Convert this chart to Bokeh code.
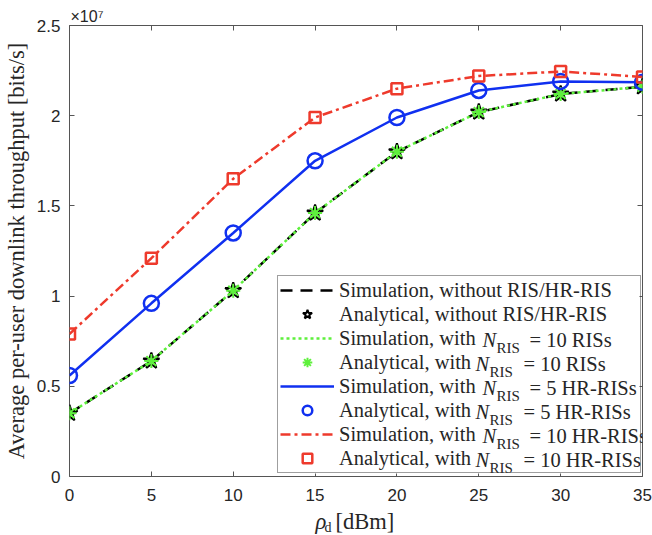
from bokeh.plotting import figure
from bokeh.layouts import column
from bokeh.models import (Range1d, LinearAxis, FixedTicker, Legend, LegendItem, Label,
                          Title, BoxAnnotation)
from bokeh.core.properties import value
from bokeh.embed import file_html
from bokeh.resources import INLINE

# ---------------- data ----------------
rho_dbm = [0, 5, 10, 15, 20, 25, 30, 35]
# average per-user downlink throughput, in units of 1e7 bits/s
thr_without = [0.35, 0.64, 1.03, 1.46, 1.80, 2.02, 2.12, 2.16]
thr_ris10 = [0.35, 0.64, 1.03, 1.46, 1.80, 2.02, 2.12, 2.16]
thr_hr5 = [0.56, 0.96, 1.35, 1.75, 1.99, 2.14, 2.19, 2.185]
thr_hr10 = [0.79, 1.21, 1.65, 1.99, 2.15, 2.22, 2.245, 2.215]

x_ticks = [0, 5, 10, 15, 20, 25, 30, 35]
x_tick_labels = ["0", "5", "10", "15", "20", "25", "30", "35"]
y_ticks = [0, 0.5, 1, 1.5, 2, 2.5]
y_tick_labels = ["0", "0.5", "1", "1.5", "2", "2.5"]
y_exponent = "×10⁷"

legend_prefix = [
    "Simulation, without RIS/HR-RIS",
    "Analytical, without RIS/HR-RIS",
    "Simulation, with ",
    "Analytical, with ",
    "Simulation, with ",
    "Analytical, with ",
    "Simulation, with ",
    "Analytical, with ",
]
legend_suffix = [None, None, "= 10 RISs", "= 10 RISs", "= 5 HR-RISs",
                 "= 5 HR-RISs", "= 10 HR-RISs", "= 10 HR-RISs"]

y_label = "Average per-user downlink throughput [bits/s]"

# ---------------- styles ----------------
BLACK = "#000000"
GREEN = "#5ef03c"
BLUE = "#1030f0"
RED = "#ee3a2c"
AX = "#555555"
TXT = "#262626"
SERIF = "Liberation Serif"
SANS = "Liberation Sans"

W = 652
MAIN_H = 508
FL, FB = 69, 476  # frame left / bottom in canvas pixels

p = figure(width=W, height=MAIN_H, x_range=Range1d(0, 35), y_range=Range1d(0, 2.5),
           output_backend="svg", toolbar_location=None,
           min_border_left=FL, min_border_right=10, min_border_top=25,
           min_border_bottom=MAIN_H - FB)
p.xgrid.visible = False
p.ygrid.visible = False
p.outline_line_color = AX
p.outline_line_width = 1
p.background_fill_color = "white"
p.border_fill_color = "white"

xa = p.below[0]
xa.ticker = FixedTicker(ticks=x_ticks)
xa.major_label_overrides = dict(zip(x_ticks, x_tick_labels))
ya = p.left[0]
ya.ticker = FixedTicker(ticks=y_ticks)
ya.major_label_overrides = dict(zip(y_ticks, y_tick_labels))
for ax in (xa, ya):
    ax.axis_line_color = None
    ax.major_tick_in = 5
    ax.major_tick_out = 0
    ax.major_tick_line_color = AX
    ax.minor_tick_line_color = None
    ax.major_label_text_font = SANS
    ax.major_label_text_font_size = "17px"
    ax.major_label_text_color = TXT
xa.major_label_standoff = 12
ya.major_label_standoff = 9
ya.axis_label = y_label
ya.axis_label_text_font = SERIF
ya.axis_label_text_font_size = "22.5px"
ya.axis_label_text_font_style = "normal"
ya.axis_label_text_color = TXT
ya.axis_label_standoff = 5

# tick marks on the top and right edges (box style), without labels
top = LinearAxis(ticker=FixedTicker(ticks=x_ticks), axis_line_color=None,
                 major_tick_in=5, major_tick_out=0, major_tick_line_color=AX,
                 minor_tick_line_color=None, major_label_text_font_size="0px",
                 major_label_text_color=None, major_label_standoff=0)
right = LinearAxis(ticker=FixedTicker(ticks=y_ticks), axis_line_color=None,
                   major_tick_in=5, major_tick_out=0, major_tick_line_color=AX,
                   minor_tick_line_color=None, major_label_text_font_size="0px",
                   major_label_text_color=None, major_label_standoff=0)
p.add_layout(top, "above")
p.add_layout(right, "right")
p.add_layout(Title(text=y_exponent, align="left", offset=1, standoff=2,
                   text_font=SANS, text_font_size="16px", text_font_style="normal",
                   text_color=TXT), "above")

# ---------------- series ----------------
r0 = p.line(rho_dbm, thr_without, line_color=BLACK, line_width=2.5, line_dash="12 8")
r1 = p.scatter(rho_dbm, thr_without, marker="star", size=17, fill_color=None,
               line_color=BLACK, line_width=2)
r2 = p.line(rho_dbm, thr_ris10, line_color=GREEN, line_width=2.5, line_dash="3 3")
r3 = p.scatter(rho_dbm, thr_ris10, marker="asterisk", size=14, line_color=GREEN, line_width=2)
r4 = p.line(rho_dbm, thr_hr5, line_color=BLUE, line_width=2.5)
r5 = p.scatter(rho_dbm, thr_hr5, marker="circle", size=15, fill_color=None,
               line_color=BLUE, line_width=2.5)
r6 = p.line(rho_dbm, thr_hr10, line_color=RED, line_width=2.5, line_dash="10 4 3 4")
r7 = p.scatter(rho_dbm, thr_hr10, marker="square", size=11, fill_color=None,
               line_color=RED, line_width=2.5)
renderers = [r0, r1, r2, r3, r4, r5, r6, r7]

# legend geometry (canvas px)
LG_L, LG_T, LG_R, LG_B = 277, 277, 639, 473

# white backing of the legend (drawn above the curves, below the legend texts)
p.add_layout(BoxAnnotation(left=LG_L - FL, right=LG_R - FL, top=FB - LG_T, bottom=FB - LG_B,
                           left_units="screen", right_units="screen",
                           top_units="screen", bottom_units="screen",
                           fill_color="white", fill_alpha=1.0, line_color=None,
                           level="annotation"))


def lab(text, x, y, size, font=SERIF, italic=False, baseline="middle"):
    return Label(x=x, y=y, x_units="screen", y_units="screen", text=text,
                 text_font=font, text_font_size=size,
                 text_font_style="italic" if italic else "normal",
                 text_baseline=baseline, text_align="left", text_color=TXT,
                 level="overlay")


# N_RIS parts of legend entries (canvas px converted to frame-relative px)
row_y = [291 + 24 * i for i in range(8)]
n_x = [None, None, 482, 475, 482, 475, 482, 475]
rest_dx = [None, None, 47, 48, 47, 48, 47, 48]
for i, suf in enumerate(legend_suffix):
    if suf is None:
        continue
    p.add_layout(lab("N", n_x[i] - FL, FB - row_y[i], "20.5px", italic=True))
    p.add_layout(lab("RIS", n_x[i] + 14 - FL, FB - row_y[i] - 8, "15px"))
    p.add_layout(lab(suf, n_x[i] + rest_dx[i] - FL, FB - row_y[i], "20.5px"))

legend = Legend(
    items=[LegendItem(label=value(t), renderers=[r]) for t, r in zip(legend_prefix, renderers)],
    location=(LG_L - FL, FB - LG_B), glyph_width=54, glyph_height=24, label_height=24,
    spacing=0, padding=2, margin=0, label_standoff=5, label_width=299,
    label_text_font=SERIF, label_text_font_size="20.5px", label_text_color=TXT,
    border_line_color="#404040", border_line_width=1,
    background_fill_color="white", background_fill_alpha=0.0)
p.add_layout(legend)

# ---------------- x-axis label strip:  rho_d [dBm] ----------------
STRIP_H = 535 - MAIN_H
s = figure(width=W, height=STRIP_H, x_range=Range1d(0, W), y_range=Range1d(0, STRIP_H),
           output_backend="svg", toolbar_location=None, min_border=0,
           x_axis_location=None, y_axis_location=None)
s.grid.visible = False
s.outline_line_color = None
s.background_fill_color = "white"
s.border_fill_color = "white"
# strip frame is aligned with the main frame horizontally (left edge at FL)
s.add_layout(lab("ρ", 315 - FL, 535 - 521, "22.5px", italic=True))
s.add_layout(lab("d", 324 - FL, 535 - 527, "14px"))
s.add_layout(lab("[dBm]", 335 - FL, 535 - 521, "22.5px"))

layout = column(p, s, spacing=0)
open("out.html", "w").write(file_html(layout, INLINE))
